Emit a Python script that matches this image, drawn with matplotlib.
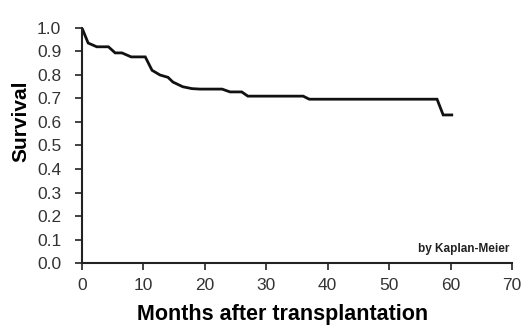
import matplotlib
matplotlib.use("Agg")
import matplotlib.pyplot as plt

# Kaplan-Meier survival
months = [0, 1.0, 2.4, 4.3, 5.4, 6.5, 8.0, 10.3, 11.4, 12.7, 14.0, 14.8, 16.4,
          17.9, 19.2, 22.8, 24.1, 26.0, 27.0, 36.0, 37.0, 57.8, 58.8, 60.2]
survival = [1.0, 0.936, 0.92, 0.92, 0.894, 0.894, 0.877, 0.877, 0.82, 0.80, 0.79,
            0.77, 0.75, 0.742, 0.74, 0.74, 0.728, 0.728, 0.71, 0.71, 0.697, 0.697,
            0.63, 0.63]

xticks = [0, 10, 20, 30, 40, 50, 60, 70]
yticks = [0.0, 0.1, 0.2, 0.3, 0.4, 0.5, 0.6, 0.7, 0.8, 0.9, 1.0]

plt.rcParams['font.family'] = ['Liberation Sans', 'DejaVu Sans']

fig = plt.figure(figsize=(5.27, 3.32), dpi=100)
ax = fig.add_axes([0.1556, 0.2078, 0.8159, 0.7079])

ax.plot(months, survival, color='#111111', lw=2.0, solid_joinstyle='miter')

ax.set_xlim(0, 70)
ax.set_ylim(0, 1.0)
ax.set_xticks(xticks)
ax.set_yticks(yticks)
ax.set_yticklabels([f"{v:.1f}" for v in yticks])
ax.spines['top'].set_visible(False)
ax.spines['right'].set_visible(False)
for s in ('left', 'bottom'):
    ax.spines[s].set_linewidth(1.5)
    ax.spines[s].set_color('#222222')
ax.tick_params(axis='both', labelsize=12.5, colors='#222222', labelcolor='#333333',
               width=1.2, length=5)
ax.tick_params(axis='y', pad=10)
ax.tick_params(axis='x', pad=6)

ax.set_ylabel("Survival", fontsize=15, fontweight='bold')
ax.yaxis.set_label_coords(-0.12, 0.604)
ax.set_xlabel("Months after transplantation", fontsize=15.5, fontweight='bold')
ax.xaxis.set_label_coords(0.466, -0.175)

ax.text(0.995, 0.06, "by Kaplan-Meier", transform=ax.transAxes, ha='right',
        va='center', fontsize=8.5, fontweight='bold', color='#222222')

fig.savefig("out.png", dpi=100)
